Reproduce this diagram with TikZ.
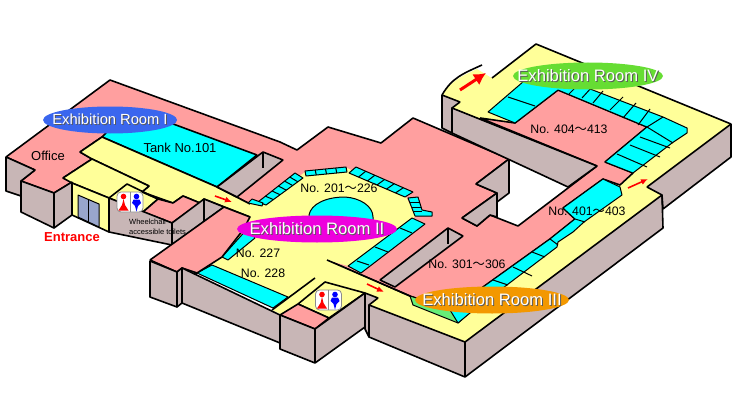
\documentclass[tikz,border=0pt]{standalone}
\usepackage{fontspec}
\setmainfont{Liberation Sans}
\newfontfamily\cjk{Noto Sans CJK JP}
\usetikzlibrary{arrows.meta,shapes,calc}
\definecolor{roompink}{HTML}{FF9F9F}
\definecolor{hallyellow}{HTML}{FFFF99}
\definecolor{tankcyan}{HTML}{00FFFF}
\definecolor{wallgray}{HTML}{C8B6B6}
\definecolor{doorblue}{HTML}{99A6CC}
\definecolor{tankgreen}{HTML}{66EE77}
\definecolor{tagblue}{HTML}{3A66EE}
\definecolor{tagmagenta}{HTML}{EE00DD}
\definecolor{tagorange}{HTML}{F39800}
\definecolor{taggreen}{HTML}{66DD33}
\newcommand{\wave}{{\cjk ～}}
\newcommand{\tagtext}[1]{\makebox[0pt]{\rlap{\kern1pt\raisebox{-1pt}{\textcolor{black!65}{#1}}}#1}}
\newcommand{\toiletsign}[2]{%
  \begin{scope}[shift={(#1,#2)}]
    \draw [black!45,fill=white,line width=.8pt,rounded corners=4pt] (-13,-10) rectangle (13,10);
    \draw [black!45,line width=.8pt] (0,-10) -- (0,10);
    \fill [red] (-6.5,-5.5) circle (2.8);
    \fill [red] (-6.5,-3) -- (-5,3) -- (-1.5,8.5) -- (-11.5,8.5) -- (-8,3) -- cycle;
    \fill [blue] (6.5,-5.5) circle (2.8);
    \fill [blue] (3.5,-2.5) -- (9.5,-2.5) -- (11,1) -- (8,4) -- (6.5,9.5) -- (5,4) -- (2,1) -- cycle;
  \end{scope}}
\tikzset{
  edge/.style={draw=black,line width=1.6pt},
  pinkroom/.style={edge,fill=roompink},
  tankroom/.style={draw=black,line width=1pt,fill=tankcyan},
  wallface/.style={edge,fill=wallgray},
  divider/.style={draw=black,line width=1pt},
  redarrow/.style={-{Latex[length=7pt,width=6pt]},red,line width=1.6pt},
  roomtag/.style={ellipse,inner sep=0pt,text=white,font=\fontsize{16.6}{18}\selectfont,minimum height=27pt},
  plainlabel/.style={inner sep=0pt,font=\fontsize{12.3}{14}\selectfont},
}
\begin{document}
\begin{tikzpicture}[line join=bevel,x=1pt,y=-1pt]
\useasboundingbox (0,0) rectangle (750,420);

% Hall: rooms III and IV
\fill [hallyellow] (442,95) .. controls (452,80) and (462,76) .. (477,69) -- (490,77) -- (492,78) -- (536,44) -- (731,124) -- (647,187) -- (662,195) -- (465,342) -- (369,305) -- (378,298) -- (365,293) -- (327,260) -- (450,150) -- (452,108) -- (460,102) -- cycle;
\fill [white] (452,108) -- (597,166) -- (518,226) -- (462,218) -- (452,150) -- cycle;
\draw [edge] (442,95) .. controls (452,78) and (462,74) .. (482,65);
\draw [edge] (492,78) -- (536,44) -- (731,124);

% Room: one floor from the office round to room IV
\draw [pinkroom] (6,157) -- (110,80) -- (280,142) -- (297,150) -- (328,127) -- (381,143) -- (413,118) -- (509,159) -- (476,184) -- (497,193) -- (462,218) -- (477,226) -- (490,215) -- (518,226) -- (597,166) -- (480,118) -- (515,123) -- (558,90) -- (647,127) -- (605,162) -- (633,173) -- (620,185) -- (603,179) -- (563,208) -- (575,219) -- (550,239) -- (483,287) -- (456,312) -- (410,296) -- (327,260) -- (250,204) -- (217,187) -- (102,137) -- (80,152) -- (92,159) -- (63,178) -- (72,182) -- (54,193) -- (21,181) -- (35,170) -- cycle;

% Tank: No.101
\draw [tankroom,edge] (102,137) -- (130,108) -- (257,155) -- (217,187) -- cycle;

% Hall: room I to room II
\fill [hallyellow] (80,152) -- (102,137) -- (217,187) -- (250,204) -- (262,205) -- (305,172) -- (347,168) -- (405,195) -- (416,216) -- (348,266) -- (327,260) -- (400,293) -- (370,300) -- (365,293) -- (325,282) -- (285,316) -- (272,310) -- (288,297) -- (212,265) -- (222,257) -- (250,217) -- (204,199) -- (200,203) -- (183,196) -- (173,203) -- (142,192) -- (149,186) -- (92,159) -- cycle;
\draw [edge] (92,159) -- (80,152) -- (102,137) -- (217,187) -- (250,204);
\draw [edge] (327,260) -- (410,296);
\draw [edge] (92,159) -- (149,186) -- (142,192) -- (173,203) -- (183,196) -- (200,203) -- (204,199) -- (250,217);
\draw [edge] (272,310) -- (315,278);

% Hall: entrance
\draw [edge,fill=hallyellow] (63,178) -- (92,159) -- (149,186) -- (142,192) -- (158,199) -- (143,212) -- (109,198) -- (72,183) -- cycle;
\draw [edge] (109,198) -- (127,184) -- (158,199);
\draw [pinkroom] (143,212) -- (158,199) -- (173,203) -- (183,196) -- (200,203) -- (172,223) -- cycle;

% Tanks: room II
\coordinate (upA) at (258,202); \coordinate (upB) at (295,173);
\coordinate (loA) at (266,205); \coordinate (loB) at (303,178);
\draw [tankroom] (upA) -- (upB) -- (loB) -- (loA) -- cycle;
\foreach \t in {.2,.38,.55,.72,.86} \draw [divider] ($(upA)!\t!(upB)$) -- ($(loA)!\t!(loB)$);
\draw [tankroom] (248,203) -- (252,199) -- (263,203) -- (262,206) -- cycle;
\coordinate (upC) at (305,171); \coordinate (upD) at (346,167);
\coordinate (loC) at (306,176); \coordinate (loD) at (347,172);
\draw [tankroom] (upC) -- (upD) -- (loD) -- (loC) -- cycle;
\foreach \t in {.25,.5,.75} \draw [divider] ($(upC)!\t!(upD)$) -- ($(loC)!\t!(loD)$);
\coordinate (upE) at (356,167); \coordinate (upF) at (413,192);
\coordinate (loE) at (349,173); \coordinate (loF) at (405,197);
\draw [tankroom] (upE) -- (upF) -- (loF) -- (loE) -- cycle;
\foreach \t in {.17,.33,.5,.67,.83} \draw [divider] ($(upE)!\t!(upF)$) -- ($(loE)!\t!(loF)$);
\draw [tankroom] (408,198) -- (418,197) -- (422,210) -- (432,212) -- (432,216) -- (415,216) -- cycle;
\draw [divider] (410,202) -- (420,202);
\draw [divider] (412,207) -- (421,207);
\draw [divider] (413,211) -- (422,211);
\draw [tankroom] (412,218) -- (425,224) -- (361,273) -- (348,266) -- cycle;
\draw [divider] (400,228) -- (412,233);
\draw [divider] (375,247) -- (388,252);
\draw [divider] (357,261) -- (369,265);
\draw [tankroom] (309,215) .. controls (311,204) and (326,197) .. (345,197) .. controls (360,198) and (373,206) .. (373,217) -- (373,235) -- (309,235) -- cycle;
\draw [tankroom] (222,257) -- (228,260) -- (255,238) -- (248,228) -- cycle;
\draw [tankroom] (197,273) -- (212,265) -- (288,297) -- (273,308) -- cycle;

% Tanks: room III
\draw [draw=black,line width=1pt,fill=tankgreen] (410,296) -- (413,305) -- (458,323) -- (468,314) -- cycle;
\draw [tankroom] (563,208) -- (603,179) -- (620,187) -- (622,195) -- (584,222) -- (573,232) -- (558,242) -- (557,247) -- (470,313) -- (458,323) -- (450,310) -- (483,287) -- (550,239) -- (575,219) -- cycle;
\draw [divider] (493,280) -- (508,285);
\draw [divider] (513,267) -- (532,276);
\draw [divider] (532,252) -- (545,257);
\draw [divider] (550,239) -- (558,245);
\draw [divider] (575,219) -- (585,222);

% Tanks: room IV
\draw [tankroom] (488,112) -- (538,69) -- (663,117) -- (687,128) -- (687,133) -- (672,143) -- (633,173) -- (605,162) -- (647,127) -- (558,90) -- (515,123) -- cycle;
\foreach \xa/\ya/\xb/\yb in {508/97/535/106,569/94/577/86,582/98/592/87,593/103/603/91,610/110/623/97,623/118/636/103,638/125/650/109,647/127/663/117,647/127/673/143,640/137/670/148,630/145/660/157,617/154/647/167}
  \draw [divider] (\xa,\ya) -- (\xb,\yb);

% Wall: left end of the building
\draw [wallface] (6,157) -- (35,170) -- (21,181) -- (21,196) -- (6,191) -- cycle;
\draw [wallface] (21,181) -- (54,193) -- (54,228) -- (21,212) -- cycle;
\draw [wallface] (54,193) -- (72,182) -- (72,215) -- (54,228) -- cycle;
\draw [edge,fill=hallyellow] (72,183) -- (109,198) -- (109,232) -- (72,215) -- cycle;
\draw [line width=1pt,fill=doorblue] (78,195) -- (99,204) -- (99,227) -- (78,217) -- cycle;
\draw [line width=1pt] (88,199) -- (88,222);
\draw [wallface] (109,198) -- (172,223) -- (172,245) -- (109,232) -- cycle;
\draw [wallface] (172,223) -- (204,199) -- (224,207) -- (172,245) -- cycle;
\draw [edge] (204,199) -- (204,221);

% Wall: inner walls
\draw [wallface] (217,187) -- (263,152) -- (283,160) -- (237,197) -- cycle;
\draw [edge] (263,152) -- (263,168);
\draw [wallface] (380,280) -- (448,228) -- (463,236) -- (395,287) -- cycle;
\draw [edge] (448,228) -- (448,244);
\draw [wallface] (509,159) -- (476,184) -- (497,193) -- (497,202) -- (509,193) -- cycle;
\draw [wallface] (497,193) -- (462,218) -- (477,226) -- (490,215) -- (497,217) -- cycle;
\draw [wallface] (442,95) -- (460,102) -- (452,108) -- (452,133) -- (442,128) -- cycle;
\draw [wallface] (452,108) -- (597,166) -- (568,187) -- (452,133) -- cycle;

% Room: block beside room II
\draw [pinkroom] (150,260) -- (224,207) -- (250,217) -- (243,230) -- (222,257) -- (197,273) -- (182,268) -- (177,272) -- cycle;
\draw [edge] (190,278) -- (197,273);
\draw [wallface] (150,261) -- (177,272) -- (177,307) -- (150,297) -- cycle;
\draw [wallface] (177,272) -- (182,268) -- (182,303) -- (177,307) -- cycle;
\draw [wallface] (182,268) -- (280,315) -- (280,343) -- (182,303) -- cycle;

% Toilet block
\draw [edge,fill=hallyellow] (298,304) -- (325,282) -- (365,293) -- (329,318) -- cycle;
\draw [pinkroom] (280,315) -- (298,304) -- (329,318) -- (315,329) -- cycle;
\draw [wallface] (280,315) -- (315,329) -- (365,293) -- (365,327) -- (315,363) -- (280,349) -- cycle;
\draw [edge] (315,329) -- (315,363);
\draw [wallface] (365,293) -- (378,298) -- (369,305) -- (369,337) -- (365,329) -- cycle;

% Wall: long front walls
\draw [wallface] (369,305) -- (465,342) -- (662,195) -- (663,228) -- (465,377) -- (369,337) -- cycle;
\draw [edge] (465,342) -- (465,377);
\draw [wallface] (647,187) -- (731,124) -- (731,157) -- (663,209) -- (662,195) -- cycle;

% Signs and arrows
\toiletsign{130}{202}
\toiletsign{328.5}{300}
\coordinate (arrowIa) at (215,196); \coordinate (arrowIb) at (232,202);
\coordinate (arrowIIa) at (367,284); \coordinate (arrowIIb) at (384,292);
\coordinate (arrowIIIa) at (628,188); \coordinate (arrowIIIb) at (648,179);
\coordinate (arrowIVa) at (460,90); \coordinate (arrowIVb) at (486,73);
\draw [redarrow] (arrowIa) -- (arrowIb);
\draw [redarrow] (arrowIIa) -- (arrowIIb);
\draw [redarrow] (arrowIIIa) -- (arrowIIIb);
\draw [-{Latex[length=12pt,width=13pt]},red,line width=3pt] (arrowIVa) -- (arrowIVb);

% Node: room tags
\node [roomtag,fill=tagblue,minimum width=134pt,font=\fontsize{14.7}{18}\selectfont] (roomI) at (110,120) {\tagtext{Exhibition Room I}};
\node [roomtag,fill=tagmagenta,minimum width=160pt] (roomII) at (317,229) {\tagtext{Exhibition Room II}};
\node [roomtag,fill=tagorange,minimum width=154pt] (roomIII) at (492,300) {\tagtext{Exhibition Room III}};
\node [roomtag,fill=taggreen,minimum width=150pt] (roomIV) at (588,76) {\tagtext{Exhibition Room IV}};

% Node: labels
\node [plainlabel,font=\fontsize{13}{14}\selectfont] (office) at (48,156) {Office};
\node [plainlabel,font=\fontsize{13}{14}\selectfont] (tank101) at (180,148) {Tank No.101};
\node [plainlabel] (tanks201) at (339,188) {No. 201\wave226};
\node [plainlabel] (tank227) at (258,253) {No. 227};
\node [plainlabel] (tank228) at (263,273) {No. 228};
\node [plainlabel] (tanks301) at (467,264) {No. 301\wave306};
\node [plainlabel] (tanks401) at (587,211) {No. 401\wave403};
\node [plainlabel] (tanks404) at (569,129) {No. 404\wave413};
\node [plainlabel,text=red,font=\fontsize{13}{14}\selectfont\bfseries] (entrance) at (72,237) {Entrance};
\node [inner sep=0pt,anchor=west,align=left,font=\fontsize{7.5}{10}\selectfont] (wheelchair) at (129,227) {Wheelchair\\accessible toilets};
\end{tikzpicture}
\end{document}
